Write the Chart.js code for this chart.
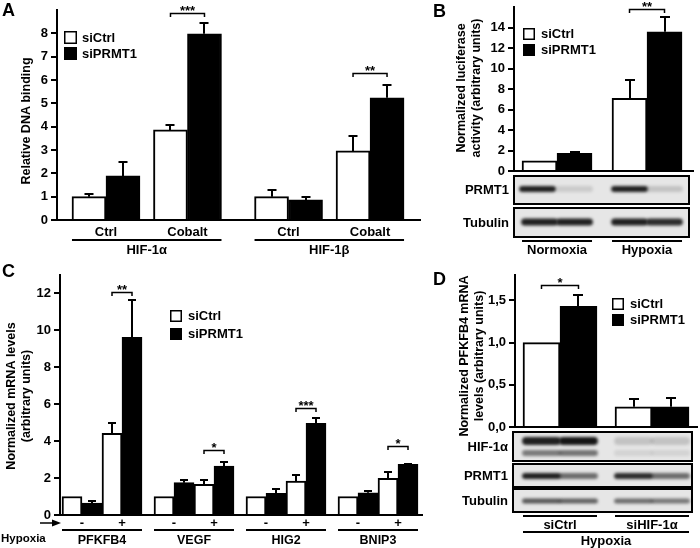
<!DOCTYPE html>
<html>
<head>
<meta charset="utf-8">
<title>PRMT1 / HIF figure</title>
<script src="https://cdn.jsdelivr.net/npm/chart.js@4.4.1/dist/chart.umd.min.js"></script>
<style>
html,body{margin:0;padding:0;background:#fff;}
#fig{position:relative;width:700px;height:548px;overflow:hidden;background:#fff;}
#fig canvas{position:absolute;left:0;top:0;}
</style>
</head>
<body>
<div id="fig">
<canvas id="chartA" width="700" height="548"></canvas>
<canvas id="chartB" width="700" height="548"></canvas>
<canvas id="chartC" width="700" height="548"></canvas>
<canvas id="chartD" width="700" height="548"></canvas>
</div>
<script>
// ================= DATA =================
const seriesLabels = ['siCtrl', 'siPRMT1'];

// Panel A
const aCategories = ['Ctrl', 'Cobalt', 'Ctrl', 'Cobalt'];
const aGroups = ['HIF-1α', 'HIF-1β'];
const aSiCtrl = [1.0, 3.86, 1.0, 2.96];
const aSiCtrlErr = [0.11, 0.21, 0.29, 0.64];
const aSiPRMT1 = [1.89, 7.98, 0.86, 5.24];
const aSiPRMT1Err = [0.61, 0.48, 0.14, 0.53];
const aTicks = [0, 1, 2, 3, 4, 5, 6, 7, 8];
const aSignif = [['***', 1, 8.87], ['**', 3, 6.3]];
const aTitle = ['Relative DNA binding'];

// Panel B
const bCategories = ['Normoxia', 'Hypoxia'];
const bSiCtrl = [1.0, 7.08];
const bSiCtrlErr = [0, 1.79];
const bSiPRMT1 = [1.72, 13.58];
const bSiPRMT1Err = [0.1, 1.46];
const bTicks = [0, 2, 4, 6, 8, 10, 12, 14];
const bSignif = [['**', 1, 15.8]];
const bTitle = ['Normalized luciferase', 'activity (arbitrary units)'];
const bBlotLabels = ['PRMT1', 'Tubulin'];
const bBlotBands = [[0.9, 0.12, 0.9, 0.16], [0.9, 0.9, 0.9, 0.85]];

// Panel C
const cGenes = ['PFKFB4', 'VEGF', 'HIG2', 'BNIP3'];
const cHypoxia = ['-', '+', '-', '+', '-', '+', '-', '+'];
const cRowLabel = 'Hypoxia';
const cSiCtrl = [1.0, 4.42, 1.0, 1.66, 1.0, 1.84, 1.0, 1.99];
const cSiCtrlErr = [0, 0.54, 0, 0.24, 0, 0.33, 0, 0.36];
const cSiPRMT1 = [0.65, 9.62, 1.75, 2.65, 1.17, 4.96, 1.2, 2.74];
const cSiPRMT1Err = [0.12, 2.02, 0.15, 0.24, 0.22, 0.31, 0.1, 0.02];
const cTicks = [0, 2, 4, 6, 8, 10, 12];
const cSignif = [['**', 1, 12.1], ['*', 3, 3.52], ['***', 5, 5.79], ['*', 7, 3.75]];
const cTitle = ['Normalized mRNA levels', '(arbitrary units)'];

// Panel D
const dCategories = ['siCtrl', 'siHIF-1α'];
const dCondition = 'Hypoxia';
const dSiCtrl = [1.0, 0.24];
const dSiCtrlErr = [0, 0.09];
const dSiPRMT1 = [1.43, 0.24];
const dSiPRMT1Err = [0.13, 0.1];
const dTicks = [0, 0.5, 1.0, 1.5];
const dTickLabels = ['0,0', '0,5', '1,0', '1,5'];
const dSignif = [['*', 0, 1.68]];
const dTitle = ['Normalized PFKFB4 mRNA', 'levels (arbitrary units)'];
const dBlotLabels = ['HIF-1α', 'PRMT1', 'Tubulin'];
const dBlotBands = [[0.9, 0.95, 0.16, 0.16], [0.9, 0.55, 0.85, 0.55], [0.65, 0.6, 0.55, 0.5]];

// ================= RENDERING =================
const FAM = '"Liberation Sans", Arial, Helvetica, sans-serif';
const font = s => `bold ${s}px ${FAM}`;

function makePanel(id, P) {
  const ds = (label, vals, fill) => ({
    label,
    data: vals.map((v, i) => ({ x: P.xOf(i), y: v })),
    backgroundColor: fill, borderColor: '#000', borderWidth: 2,
    barThickness: P.barW, borderSkipped: 'start'
  });

  const overlay = {
    id: 'overlay',
    afterDatasetsDraw(chart) {
      const ctx = chart.ctx, ys = chart.scales.y;
      const m0 = chart.getDatasetMeta(0).data, m1 = chart.getDatasetMeta(1).data;
      const leftEdge = i => m0[i].x - m0[i].width / 2;
      const rightEdge = i => m1[i].x + m1[i].width / 2;
      const mid = i => (m0[i].x + m1[i].x) / 2;
      const text = (s, x, y, size, align = 'center', base = 'middle') => {
        ctx.font = font(size); ctx.textAlign = align; ctx.textBaseline = base; ctx.fillText(s, x, y);
      };
      ctx.save();
      ctx.fillStyle = '#000'; ctx.strokeStyle = '#000';

      // error bars (upper only)
      ctx.lineWidth = 2;
      [[P.v0, P.e0, m0], [P.v1, P.e1, m1]].forEach(([v, e, m]) => v.forEach((val, i) => {
        if (!e[i]) return;
        const x = Math.round(m[i].x), y0 = ys.getPixelForValue(val), y1 = Math.round(ys.getPixelForValue(val + e[i]));
        ctx.beginPath();
        ctx.moveTo(x, y0); ctx.lineTo(x, y1);
        ctx.moveTo(x - P.cap / 2, y1); ctx.lineTo(x + P.cap / 2, y1);
        ctx.stroke();
      }));

      // significance brackets
      ctx.lineWidth = 1.5;
      P.signif.forEach(([s, i, lvl]) => {
        const x0 = m0[i].x, x1 = m1[i].x, yb = Math.round(ys.getPixelForValue(lvl)) + 0.5;
        ctx.beginPath();
        ctx.moveTo(x0, yb + 3.5); ctx.lineTo(x0, yb); ctx.lineTo(x1, yb); ctx.lineTo(x1, yb + 3.5);
        ctx.stroke();
        text(s, (x0 + x1) / 2, yb + 1.5, 13, 'center', 'alphabetic');
      });

      // category labels
      if (P.catLabels) P.catLabels.forEach((s, i) => text(s, mid(i), P.catY, P.catSize));

      // group underlines + labels
      ctx.lineWidth = 2;
      P.levels.forEach(L => L.groups.forEach(([s, a, b]) => {
        const x0 = leftEdge(a), x1 = rightEdge(b);
        ctx.beginPath(); ctx.moveTo(x0, L.lineY); ctx.lineTo(x1, L.lineY); ctx.stroke();
        text(s, (x0 + x1) / 2, L.textY, L.size);
      }));

      // legend
      const Lg = P.legend;
      seriesLabels.forEach((s, k) => {
        const y = Lg.y + k * Lg.step;
        ctx.fillStyle = k ? '#000' : '#fff';
        ctx.fillRect(Lg.x, y, Lg.box, Lg.box);
        ctx.lineWidth = 1.5; ctx.strokeStyle = '#000';
        ctx.strokeRect(Lg.x + 0.75, y + 0.75, Lg.box - 1.5, Lg.box - 1.5);
        ctx.fillStyle = '#000';
        text(s, Lg.tx, y + Lg.box / 2 + 0.5, Lg.size, 'left');
      });

      // western blots
      if (P.blot) {
        const B = P.blot;
        const lanes = [m0[0].x, m1[0].x, m0[1].x, m1[1].x];
        const bw = m0[0].width * 1.05;
        B.rows.forEach((r, k) => {
          ctx.save();
          ctx.fillStyle = '#e6e6e6';
          ctx.fillRect(B.x0, r.top, B.x1 - B.x0, r.bottom - r.top);
          ctx.beginPath(); ctx.rect(B.x0, r.top, B.x1 - B.x0, r.bottom - r.top); ctx.clip();
          ctx.filter = 'blur(1.6px)';
          P.blotBands[k].forEach((a, j) => {
            const cx = lanes[j] + (r.shift ? r.shift[j] : 0);
            ctx.fillStyle = `rgba(10,10,10,${a})`;
            ctx.beginPath();
            ctx.roundRect(cx - bw / 2, r.cy - r.h / 2, bw, r.h, r.h / 2);
            ctx.fill();
            if (r.cy2) {
              ctx.fillStyle = `rgba(10,10,10,${a * 0.55})`;
              ctx.beginPath();
              ctx.roundRect(cx - bw / 2, r.cy2 - r.h2 / 2, bw, r.h2, r.h2 / 2);
              ctx.fill();
            }
          });
          ctx.restore();
          ctx.lineWidth = 2; ctx.strokeStyle = '#000';
          ctx.strokeRect(B.x0, r.top, B.x1 - B.x0, r.bottom - r.top);
          ctx.fillStyle = '#000';
          text(P.blotLabels[k], B.labelX, (r.top + r.bottom) / 2 + 0.5, 13, 'right');
        });
      }

      // y-axis title
      P.title.lines.forEach((s, k) => {
        ctx.save();
        ctx.translate(P.title.xs[k], P.title.yc);
        ctx.rotate(-Math.PI / 2);
        text(s, 0, 0, P.title.size);
        ctx.restore();
      });

      // panel letter
      text(P.letter[0], P.letter[1], P.letter[2], 18, 'left', 'alphabetic');

      if (P.extra) P.extra(ctx, text);
      ctx.restore();
    }
  };

  return new Chart(document.getElementById(id), {
    type: 'bar',
    data: { datasets: [ds(seriesLabels[0], P.v0, '#ffffff'), ds(seriesLabels[1], P.v1, '#000000')] },
    options: {
      responsive: false, maintainAspectRatio: false, animation: false, devicePixelRatio: 1,
      events: [],
      layout: { padding: { left: P.area.l - 40, right: 700 - P.area.r, top: P.area.t, bottom: 548 - P.area.b } },
      plugins: { legend: { display: false }, tooltip: { enabled: false } },
      scales: {
        x: {
          type: 'linear', position: 'bottom', min: P.xMin, max: P.xMax, offset: false,
          grid: { display: true, drawOnChartArea: false, drawTicks: false },
          ticks: { display: false },
          border: { display: true, color: '#000', width: 2, z: 1 },
          afterFit(s) { s.height = 0; s.paddingLeft = 0; s.paddingRight = 0; s.paddingTop = 0; s.paddingBottom = 0; }
        },
        y: {
          type: 'linear', position: 'left', min: 0, max: P.yMax,
          afterBuildTicks(s) { s.ticks = P.ticks.map(v => ({ value: v })); },
          ticks: {
            color: '#000', font: { family: FAM, size: P.tickSize, weight: 'bold' }, padding: 3,
            callback: (v, i) => (P.tickLabels ? P.tickLabels[i] : String(v))
          },
          grid: { display: true, drawOnChartArea: false, drawTicks: true, tickLength: 6, color: '#000', lineWidth: 2 },
          border: { display: true, color: '#000', width: 2, z: 1 },
          afterFit(s) { s.width = 40; s.paddingTop = 0; s.paddingBottom = 0; s.paddingLeft = 0; s.paddingRight = 0; }
        }
      }
    },
    plugins: [overlay]
  });
}

// Panel A
makePanel('chartA', {
  area: { l: 57, t: 10, r: 420, b: 220 }, yMax: 9, ticks: aTicks, tickSize: 13,
  xOf: i => Math.floor(i / 2) * 2.24 + (i % 2), xMin: -0.601, xMax: 3.853, barW: 34, cap: 9,
  v0: aSiCtrl, e0: aSiCtrlErr, v1: aSiPRMT1, e1: aSiPRMT1Err, signif: aSignif,
  catLabels: aCategories, catY: 232, catSize: 13,
  levels: [{ lineY: 240, textY: 250, size: 13, groups: [[aGroups[0], 0, 1], [aGroups[1], 2, 3]] }],
  legend: { x: 64, y: 31, box: 13, step: 16, tx: 82, size: 13 },
  title: { lines: aTitle, xs: [27], yc: 121, size: 12.5 },
  letter: ['A', 2, 16]
});

// Panel B
makePanel('chartB', {
  area: { l: 514, t: 7, r: 693, b: 171 }, yMax: 16, ticks: bTicks, tickSize: 13,
  xOf: i => i, xMin: -0.478, xMax: 1.511, barW: 35, cap: 10,
  v0: bSiCtrl, e0: bSiCtrlErr, v1: bSiPRMT1, e1: bSiPRMT1Err, signif: bSignif,
  levels: [{ lineY: 241, textY: 250, size: 13, groups: [[bCategories[0], 0, 0], [bCategories[1], 1, 1]] }],
  legend: { x: 523, y: 28, box: 12, step: 16, tx: 541, size: 13 },
  title: { lines: bTitle, xs: [462, 477], yc: 88, size: 12.5 },
  letter: ['B', 433, 17],
  blot: {
    x0: 514, x1: 689, labelX: 509,
    rows: [
      { top: 176, bottom: 204, cy: 189, h: 6, shift: [-2, 0, 0, 0] },
      { top: 208, bottom: 237, cy: 222, h: 7 }
    ]
  },
  blotLabels: bBlotLabels, blotBands: bBlotBands
});

// Panel C
makePanel('chartC', {
  area: { l: 60, t: 275, r: 422, b: 515 }, yMax: 13, ticks: cTicks, tickSize: 13,
  xOf: i => Math.floor(i / 2) * 2.3 + (i % 2), xMin: -0.55, xMax: 8.5, barW: 20, cap: 8,
  v0: cSiCtrl, e0: cSiCtrlErr, v1: cSiPRMT1, e1: cSiPRMT1Err, signif: cSignif,
  catLabels: cHypoxia, catY: 523, catSize: 13,
  levels: [{ lineY: 530, textY: 541, size: 12.5, groups: cGenes.map((g, k) => [g, 2 * k, 2 * k + 1]) }],
  legend: { x: 170, y: 310, box: 12, step: 18, tx: 188, size: 13 },
  title: { lines: cTitle, xs: [12, 27], yc: 396, size: 12.5 },
  letter: ['C', 2, 277],
  extra(ctx, text) {
    text(cRowLabel, 1, 539, 11.5, 'left');
    ctx.lineWidth = 1.5;
    ctx.beginPath(); ctx.moveTo(40, 523); ctx.lineTo(55, 523); ctx.stroke();
    ctx.beginPath(); ctx.moveTo(61, 523); ctx.lineTo(52, 519.5); ctx.lineTo(52, 526.5); ctx.closePath(); ctx.fill();
  }
});

// Panel D
makePanel('chartD', {
  area: { l: 515, t: 275, r: 697, b: 427 }, yMax: 1.8, ticks: dTicks, tickLabels: dTickLabels, tickSize: 13,
  xOf: i => i, xMin: -0.489, xMax: 1.489, barW: 37, cap: 10,
  v0: dSiCtrl, e0: dSiCtrlErr, v1: dSiPRMT1, e1: dSiPRMT1Err, signif: dSignif,
  levels: [
    { lineY: 516, textY: 525, size: 13, groups: [[dCategories[0], 0, 0], [dCategories[1], 1, 1]] },
    { lineY: 532, textY: 541, size: 13, groups: [[dCondition, 0, 1]] }
  ],
  legend: { x: 612, y: 298, box: 12, step: 16, tx: 630, size: 13 },
  title: { lines: dTitle, xs: [465, 480], yc: 356, size: 12.5 },
  letter: ['D', 433, 285],
  blot: {
    x0: 513, x1: 692, labelX: 508,
    rows: [
      { top: 432, bottom: 461, cy: 441, h: 8, cy2: 453, h2: 6 },
      { top: 464, bottom: 487, cy: 476, h: 6 },
      { top: 489, bottom: 512, cy: 501, h: 5 }
    ]
  },
  blotLabels: dBlotLabels, blotBands: dBlotBands
});
</script>
</body>
</html>
